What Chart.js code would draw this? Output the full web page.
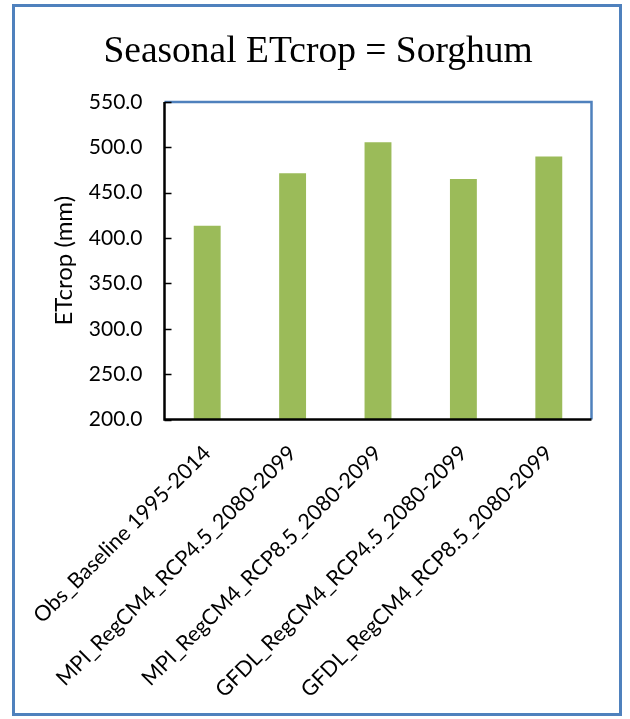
<!DOCTYPE html>
<html>
<head>
<meta charset="utf-8">
<title>Seasonal ETcrop = Sorghum</title>
<script src="https://cdn.jsdelivr.net/npm/chart.js@4"></script>
<style>
  html, body { margin: 0; padding: 0; background: #fff; }
</style>
</head>
<body>
<canvas id="etChart" width="630" height="719"></canvas>
<script>
// seasonal crop evapotranspiration per scenario (mm)
const scenarios = [
  "Obs_Baseline 1995-2014",
  "MPI_RegCM4_RCP4.5_2080-2099",
  "MPI_RegCM4_RCP8.5_2080-2099",
  "GFDL_RegCM4_RCP4.5_2080-2099",
  "GFDL_RegCM4_RCP8.5_2080-2099"
];
const etcropMm = [413.5, 471.5, 505.5, 465.0, 490.0];
const yTicks = [200, 250, 300, 350, 400, 450, 500, 550];

const chartTitle = "Seasonal ETcrop = Sorghum";
const labelFont = "Lato";
const frameBlue = "#4f81bd";

// white page, blue frame round the whole chart, serif title on top
const pageFrame = {
  id: "pageFrame",
  beforeDraw(chart) {
    const ctx = chart.ctx;
    ctx.save();
    ctx.fillStyle = "#fff";
    ctx.fillRect(0, 0, chart.width, chart.height);
    ctx.strokeStyle = frameBlue;
    ctx.lineWidth = 3;
    ctx.strokeRect(13.5, 5.5, 607, 709);
    ctx.fillStyle = "#000";
    ctx.font = "37.5px 'Liberation Serif'";
    ctx.textAlign = "center";
    ctx.textBaseline = "alphabetic";
    ctx.fillText(chartTitle, 318, 62);
    ctx.restore();
  }
};

// plot box: black left/bottom axes, blue top/right, ticks pointing inward
const plotFrame = {
  id: "plotFrame",
  afterDatasetsDraw(chart) {
    const { ctx, chartArea: a, scales } = chart;
    ctx.save();
    ctx.lineWidth = 2.5;
    ctx.strokeStyle = frameBlue;
    ctx.beginPath();
    ctx.moveTo(a.left, a.top);
    ctx.lineTo(a.right, a.top);
    ctx.lineTo(a.right, a.bottom);
    ctx.stroke();
    ctx.strokeStyle = "#000";
    ctx.beginPath();
    ctx.moveTo(a.left, a.top);
    ctx.lineTo(a.left, a.bottom);
    ctx.lineTo(a.right, a.bottom);
    ctx.stroke();
    ctx.lineWidth = 1.5;
    ctx.beginPath();
    yTicks.forEach(v => {
      const y = Math.round(scales.y.getPixelForValue(v)) + 0.5;
      ctx.moveTo(a.left, y);
      ctx.lineTo(a.left + 7, y);
    });
    ctx.stroke();
    ctx.restore();
  }
};

new Chart(document.getElementById("etChart"), {
  type: "bar",
  data: {
    labels: scenarios,
    datasets: [{
      label: "ETcrop (mm)",
      data: etcropMm,
      backgroundColor: "#9bbb59",
      borderWidth: 0,
      categoryPercentage: 1,
      barPercentage: 0.315
    }]
  },
  options: {
    responsive: false,
    animation: false,
    layout: { padding: { left: 0, right: 38.5, top: 102, bottom: 0 } },
    plugins: {
      legend: { display: false },
      tooltip: { enabled: false },
      title: { display: false }
    },
    scales: {
      x: {
        grid: { display: false, drawTicks: false },
        border: { display: false },
        ticks: {
          color: "#000",
          font: { family: labelFont, size: 21.5 },
          minRotation: 45,
          maxRotation: 45,
          autoSkip: false,
          padding: 21
        },
        afterFit(scale) {
          scale.height = 299.5;
          scale.paddingLeft = 0;
          scale.paddingRight = 0;
        }
      },
      y: {
        min: 200,
        max: 550,
        grid: { display: false, drawTicks: false },
        border: { display: false },
        afterBuildTicks(scale) {
          scale.ticks = yTicks.map(v => ({ value: v }));
        },
        ticks: {
          color: "#000",
          font: { family: labelFont, size: 21 },
          padding: 22,
          callback: v => Number(v).toFixed(1)
        },
        title: {
          display: true,
          text: "ETcrop (mm)",
          color: "#000",
          font: { family: labelFont, size: 24 },
          padding: { top: 50, bottom: 0 }
        },
        afterFit(scale) {
          scale.width = 164.5;
          scale.paddingTop = 0;
          scale.paddingBottom = 0;
        }
      }
    }
  },
  plugins: [pageFrame, plotFrame]
});
</script>
</body>
</html>
